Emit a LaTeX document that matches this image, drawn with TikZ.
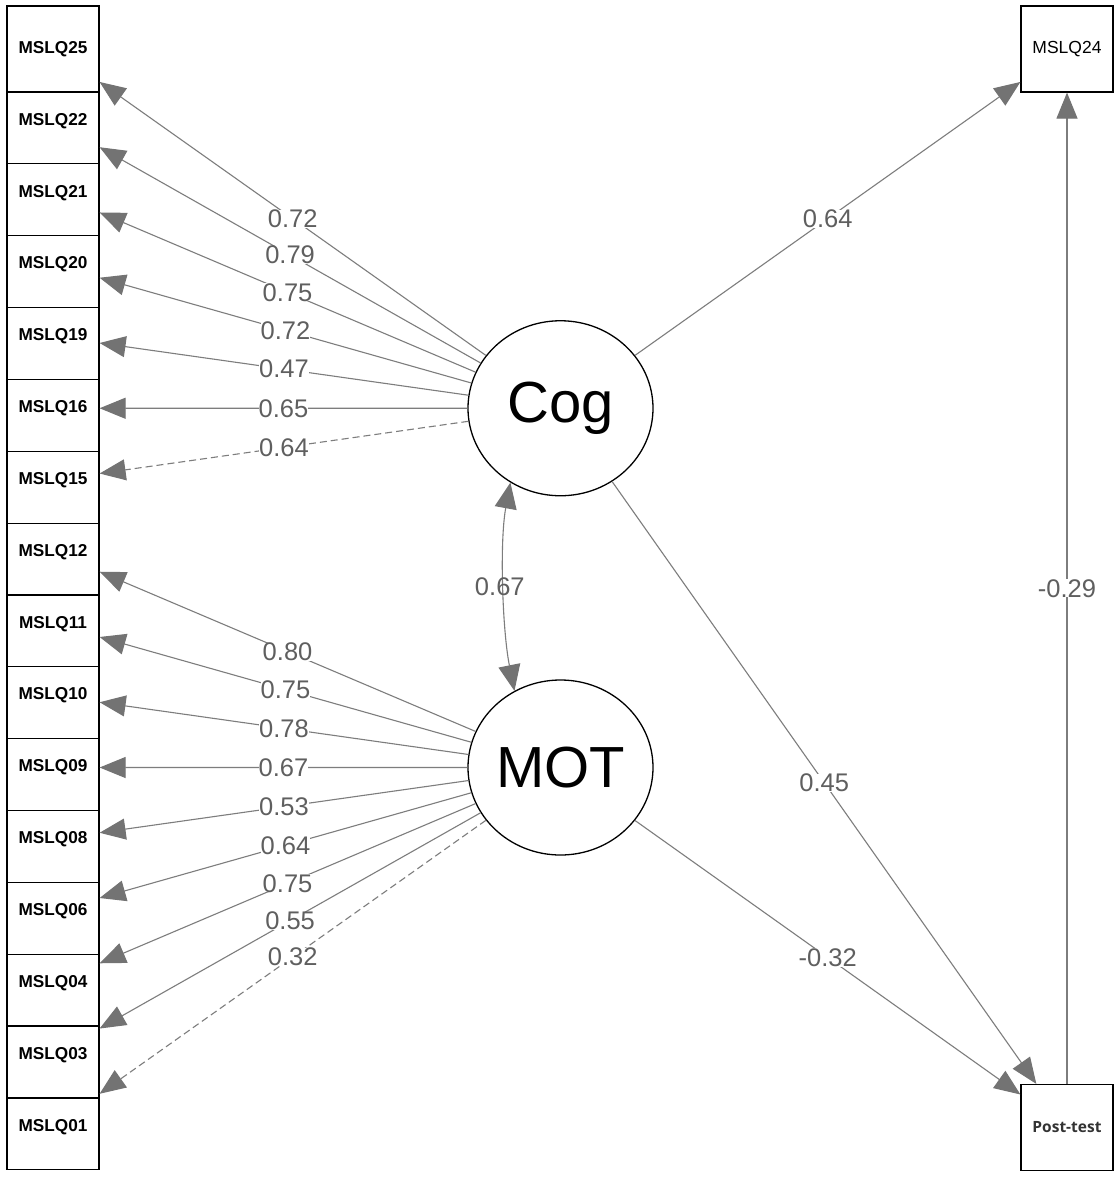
\documentclass[tikz,border=0pt]{standalone}
\usepackage{fontspec}
\setmainfont{Liberation Sans}
\newfontfamily\postfont{Open Sans}
\usetikzlibrary{shapes.geometric,arrows.meta}
\definecolor{edgegray}{RGB}{125,125,125}
\definecolor{headgray}{RGB}{115,115,115}
\definecolor{labelgray}{RGB}{95,95,95}
\tikzset{
  obs/.style={draw=black, fill=white, line width=1.2pt, minimum width=92pt,
    minimum height=86pt, inner sep=0pt, font=\fontsize{17.2}{19}\selectfont\bfseries},
  lat/.style={ellipse, draw=black, fill=white, line width=1.3pt, minimum width=185pt,
    minimum height=175pt, inner sep=0pt, font=\fontsize{58}{60}\selectfont},
  lnk/.style={draw=edgegray, line width=1.1pt,
    -{Triangle[length=26pt,width=21pt,color=headgray]}},
  dbl/.style={draw=edgegray, line width=1.1pt,
    {Triangle[length=26pt,width=22pt,color=headgray]}-{Triangle[length=26pt,width=22pt,color=headgray]}},
  dsh/.style={dash pattern=on 7pt off 4pt},
  sld/.style={},
  lbl/.style={fill=white, inner sep=0pt, text=labelgray, font=\fontsize{25.5}{28}\selectfont},
  lblclear/.style={inner sep=0pt, text=labelgray, font=\fontsize{25.5}{28}\selectfont},
}
\begin{document}
\begin{tikzpicture}[x=1pt,y=1pt]
\fill[white] (0,0) rectangle (1118,-1184);
\useasboundingbox (0,0) rectangle (1118,-1184);

% indicator boxes, stacked from the bottom up so each covers the one below
\foreach \nm/\i in {01/15,03/14,04/13,06/12,08/11,09/10,10/9,11/8,12/7,15/6,16/5,19/4,20/3,21/2,22/1,25/0}
  \node[obs] (m\nm) at (53,{-(49+71.85*\i)}) {MSLQ\nm};

\node[obs, font=\fontsize{17.5}{19}\selectfont] (m24) at (1067,-49) {MSLQ24};
\node[obs, text=black!80, font=\postfont\fontsize{15.5}{18}\selectfont\bfseries] (post) at (1067,-1127.5) {Post-test};

% latent factors
\node[lat] (cog) at (560.5,-408.25) {Cog};
\node[lat] (mot) at (560.5,-767.5) {MOT};

% loadings of Cog
\foreach \t/\v/\s in {25/0.72/sld,22/0.79/sld,21/0.75/sld,20/0.72/sld,19/0.47/sld,16/0.65/sld,15/0.64/dsh}
  \draw[lnk,\s] (cog) -- node[lbl] {\v} (m\t);

% loadings of MOT
\foreach \t/\v/\s in {12/0.80/sld,11/0.75/sld,10/0.78/sld,09/0.67/sld,08/0.53/sld,06/0.64/sld,04/0.75/sld,03/0.55/sld,01/0.32/dsh}
  \draw[lnk,\s] (mot) -- node[lbl] {\v} (m\t);

% structural paths
\draw[lnk] (cog) -- node[lbl] {0.64} (m24);
\draw[lnk] (cog) -- node[lbl] {0.45} (post);
\draw[lnk] (mot) -- node[lbl] {-0.32} (post);
\draw[lnk] (post) -- node[lbl] {-0.29} (m24);

% factor covariance
\draw[dbl] (cog.236.5) .. controls +(-11,-60) and +(-12,60) .. node[lblclear, xshift=-4pt] {0.67} (mot.121.3);
\end{tikzpicture}
\end{document}
